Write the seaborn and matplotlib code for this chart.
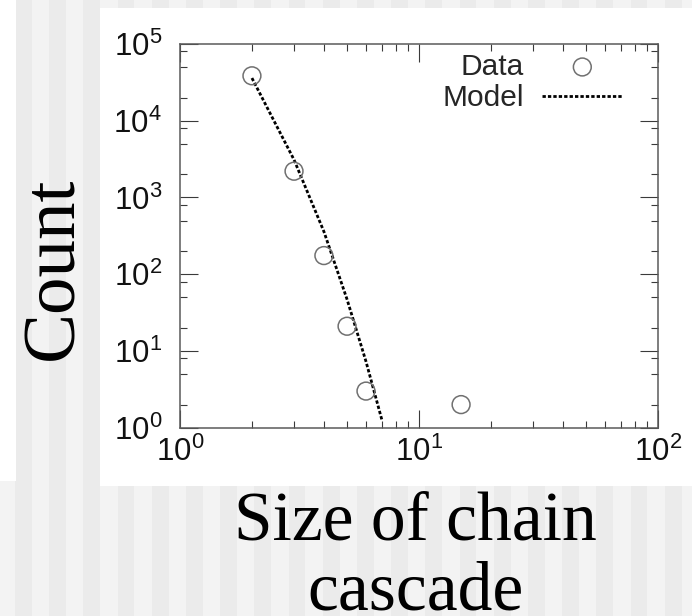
import numpy as np
import matplotlib
matplotlib.use("Agg")
import matplotlib.pyplot as plt
from matplotlib.patches import Rectangle
from matplotlib.collections import PathCollection
from matplotlib.ticker import LogLocator, LogFormatterMathtext, NullFormatter
import seaborn as sns

# Observed chain cascades: size and how many times each size occurred
data_size = [2, 3, 4, 5, 6, 15]
data_count = [38500, 2200, 175, 21, 3, 2]

# Model prediction for the same sizes
model_size = [2, 3, 4, 5, 6, 7]
model_count = [36000, 3100, 360, 47, 7.3, 1.25]

legend_labels = ["Data", "Model"]
x_label_lines = ["Size of chain", "cascade"]
y_label = "Count"

sns.set_theme(style="white")
plt.rcParams["font.family"] = ["Liberation Sans", "DejaVu Sans"]

W, H = 692, 616
fig = plt.figure(figsize=(W / 100, H / 100), dpi=100, facecolor="#f3f3f3")


def px_rect(x0, y0, x1, y1, color):
    """Rectangle in pixel coordinates measured from the top-left corner."""
    fig.patches.append(Rectangle((x0 / W, 1 - y1 / H), (x1 - x0) / W, (y1 - y0) / H,
                                 transform=fig.transFigure, facecolor=color,
                                 edgecolor="none", zorder=-10))


# striped slide background
for k in range(22):
    x0 = 15 + 34.2 * k
    px_rect(x0, 0, x0 + 16.8, H, "#ebebeb")
# white panels
px_rect(100, 8, W, 486, "white")
px_rect(0, 0, 16, 480.7, "white")

ax = fig.add_axes([180 / W, 1 - 427.7 / H, 478 / W, 383.7 / H])
ax.set_facecolor("white")
ax.set_xscale("log")
ax.set_yscale("log")

sns.lineplot(x=model_size, y=model_count, ax=ax, color="black", lw=2.0,
             linestyle=(0, (1.2, 0.75)), errorbar=None, label=legend_labels[1],
             zorder=2)
sns.scatterplot(x=data_size, y=data_count, ax=ax, s=165, marker="o",
                color="#707070", edgecolor="#707070", linewidth=1.1,
                label=legend_labels[0], zorder=3)
for coll in ax.collections:
    if isinstance(coll, PathCollection):
        coll.set_facecolor("none")
        coll.set_edgecolor("#707070")

ax.set_xlim(1, 100)
ax.set_ylim(1, 1e5)
ax.set_xlabel("")
ax.set_ylabel("")

ax.xaxis.set_major_locator(LogLocator(base=10, numticks=10))
ax.xaxis.set_minor_locator(LogLocator(base=10, subs=np.arange(2, 10), numticks=20))
ax.yaxis.set_major_locator(LogLocator(base=10, numticks=10))
ax.yaxis.set_minor_locator(LogLocator(base=10, subs=(2, 5, 8), numticks=20))
ax.xaxis.set_major_formatter(LogFormatterMathtext())
ax.yaxis.set_major_formatter(LogFormatterMathtext())
ax.xaxis.set_minor_formatter(NullFormatter())
ax.yaxis.set_minor_formatter(NullFormatter())

ax.tick_params(which="both", direction="in", bottom=True, left=True, top=True,
               right=True, color="#3a3a3a", width=0.8)
ax.tick_params(which="major", length=13.3, labelsize=22.5, labelcolor="#111111")
ax.tick_params(which="minor", length=4.7)
ax.tick_params(axis="y", which="major", pad=13)
ax.tick_params(axis="x", which="major", pad=6.5)

for sp in ax.spines.values():
    sp.set_color("#5a5a5a")
    sp.set_linewidth(1.1)
    sp.set_visible(True)

handles, labels = ax.get_legend_handles_labels()
lookup = dict(zip(labels, handles))
ax.legend([lookup[l] for l in legend_labels], legend_labels, loc="upper right",
          bbox_to_anchor=(0.926, 0.977), frameon=False, markerfirst=False,
          fontsize=21.5, handlelength=2.7, handletextpad=0.6, labelspacing=0.12,
          borderpad=0, borderaxespad=0)

serif = ["Liberation Serif", "DejaVu Serif"]
fig.text(72 / W, 1 - 268 / H, y_label, rotation=90, rotation_mode="anchor",
         ha="center", va="baseline", fontsize=54, family=serif, color="black")
fig.text(415 / W, 1 - 539 / H, x_label_lines[0], ha="center", va="baseline",
         fontsize=50, family=serif, color="black")
fig.text(415 / W, 1 - 609 / H, x_label_lines[1], ha="center", va="baseline",
         fontsize=50, family=serif, color="black")

fig.savefig("out.png", dpi=100, facecolor=fig.get_facecolor())
